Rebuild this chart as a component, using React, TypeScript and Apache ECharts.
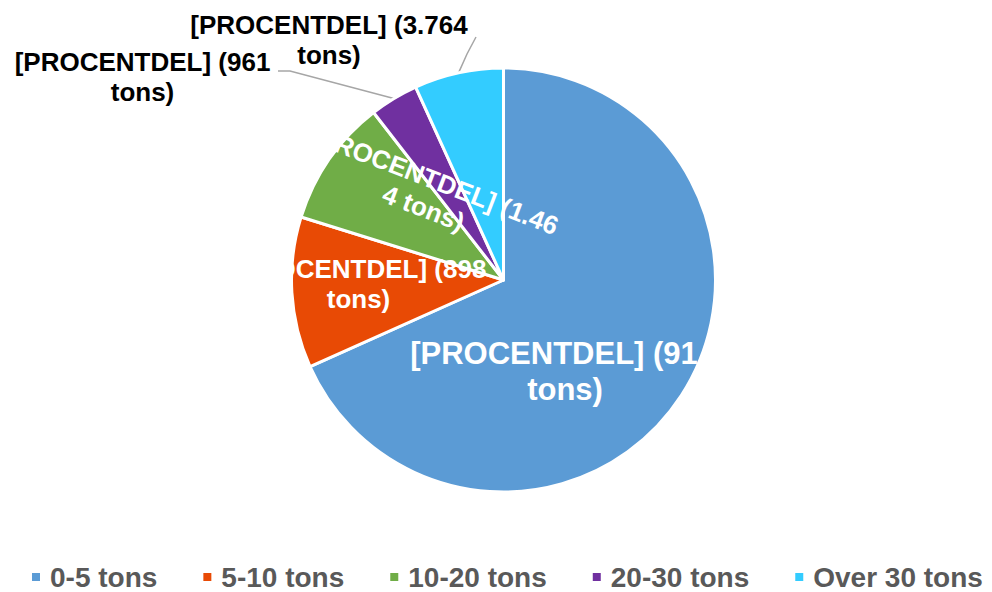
import React, { useEffect, useRef } from 'react';
import * as echarts from 'echarts';

// ---- data ----
const categories = ['0-5 tons', '5-10 tons', '10-20 tons', '20-30 tons', 'Over 30 tons'];
const shares = [68.3, 11.5, 9.7, 3.7, 6.8];
const labelLine1 = ['[PROCENTDEL] (91', '[PROCENTDEL] (898', '[PROCENTDEL] (1.46', '[PROCENTDEL] (961', '[PROCENTDEL] (3.764'];
const labelLine2 = ['tons)', 'tons)', '4 tons)', 'tons)', 'tons)'];

// ---- styles / layout ----
const colors = ['#5B9BD5', '#E84A05', '#70AD47', '#7030A0', '#33CCFF'];
const FONT = '"Liberation Sans", Arial, sans-serif';
const labelAnchors: number[][] = [[565, 371], [358.5, 283.5], [429, 194], [142.5, 77], [329, 40]];
const labelInside = [true, true, true, false, false];
const labelFont = [31, 26, 26, 26, 26];
const labelRotate = [0, 0, -21, 0, 0];
const leaderBends: (number[][] | null)[] = [null, null, null, [[290, 71], [278, 71]], [[467, 54], [476, 37]]];

export default function App() {
  const ref = useRef<HTMLDivElement>(null);
  useEffect(() => {
    if (!ref.current) return;
    const chart = echarts.init(ref.current, undefined, { renderer: 'svg' });
    const data = categories.map((name, i) => {
      const inside = labelInside[i];
      const fs = labelFont[i];
      const lh = fs === 31 ? 36 : 30;
      const color = inside ? '#ffffff' : '#000000';
      const base = { color, fontSize: fs, fontWeight: 'bold', fontFamily: FONT, lineHeight: lh };
      return {
        name,
        value: shares[i],
        itemStyle: { color: colors[i] },
        label: {
          show: true,
          position: inside ? 'inside' : 'outside',
          rotate: labelRotate[i],
          ...base,
          formatter: i === 0 ? '{a|' + labelLine1[i] + '}\n{b|' + labelLine2[i] + '}' : labelLine1[i] + '\n' + labelLine2[i],
          rich: i === 0 ? { a: { ...base, padding: [0, 22, 0, 0] }, b: { ...base } } : undefined,
        },
        labelLine: inside ? { show: false } : { show: true, length: 10, length2: 10, lineStyle: { color: '#A6A6A6', width: 1.5 } },
      };
    });
    chart.setOption({
      animation: false,
      backgroundColor: '#ffffff',
      legend: {
        left: 30,
        top: 563,
        width: 962,
        padding: 0,
        itemGap: 44,
        itemWidth: 10,
        itemHeight: 10,
        icon: 'rect',
        data: categories,
        textStyle: { color: '#595959', fontSize: 28, fontWeight: 'bold', fontFamily: FONT, padding: [0, 0, 0, 4] },
      },
      series: [
        {
          type: 'pie',
          center: [503.5, 280],
          radius: 212,
          startAngle: 90,
          clockwise: true,
          avoidLabelOverlap: false,
          itemStyle: { borderColor: '#ffffff', borderWidth: 3 },
          emphasis: { disabled: true },
          data,
          labelLayout: (params: any) => {
            const i = params.dataIndex;
            const [x, y] = labelAnchors[i];
            const res: any = { x, y, align: 'center', verticalAlign: 'middle' };
            const bend = leaderBends[i];
            if (bend && params.labelLinePoints) {
              res.labelLinePoints = [params.labelLinePoints[0], bend[0], bend[1]];
            }
            return res;
          },
        },
      ],
    });
    return () => chart.dispose();
  }, []);
  return <div ref={ref} style={{ position: 'absolute', left: 0, top: 0, width: 992, height: 592 }} />;
}
